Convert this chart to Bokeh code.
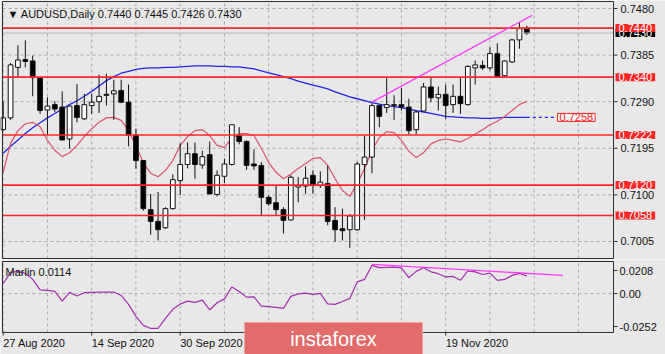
from bokeh.plotting import figure
from bokeh.layouts import column
from bokeh.models import ColumnDataSource, Range1d, Label, Grid
from bokeh.core.properties import value
from bokeh.embed import file_html
from bokeh.resources import INLINE

# ---------------- data ----------------
title_text = "\u25bc AUDUSD,Daily  0.7440 0.7445 0.7426 0.7430"

opens = [0.7233, 0.7257, 0.7360, 0.7376, 0.7373, 0.7339, 0.7273, 0.7284, 0.7279, 0.7214,
         0.7282, 0.7255, 0.7282, 0.7290, 0.7305, 0.7306, 0.7313, 0.7289, 0.7222, 0.7170,
         0.7070, 0.7046, 0.7033, 0.7072, 0.7129, 0.7162, 0.7184, 0.7161, 0.7182, 0.7101,
         0.7138, 0.7162, 0.7221, 0.7209, 0.7163, 0.7160, 0.7095, 0.7084, 0.7070, 0.7049,
         0.7116, 0.7118, 0.7140, 0.7119, 0.7123, 0.7048, 0.7031, 0.7029, 0.7029, 0.7162,
         0.7177, 0.7282, 0.7278, 0.7282, 0.7284, 0.7279, 0.7233, 0.7271, 0.7320, 0.7298,
         0.7305, 0.7284, 0.7301, 0.7284, 0.7359, 0.7364, 0.7359, 0.7388, 0.7343, 0.7371,
         0.7416, 0.7440]
highs = [0.7290, 0.7369, 0.7405, 0.7415, 0.7384, 0.7340, 0.7299, 0.7291, 0.7311, 0.7282,
         0.7326, 0.7306, 0.7306, 0.7345, 0.7347, 0.7335, 0.7335, 0.7325, 0.7235, 0.7171,
         0.7102, 0.7106, 0.7075, 0.7142, 0.7205, 0.7207, 0.7207, 0.7190, 0.7209, 0.7150,
         0.7174, 0.7244, 0.7238, 0.7211, 0.7193, 0.7167, 0.7099, 0.7119, 0.7075, 0.7140,
         0.7136, 0.7158, 0.7150, 0.7148, 0.7160, 0.7075, 0.7072, 0.7061, 0.7167, 0.7221,
         0.7287, 0.7284, 0.7339, 0.7303, 0.7318, 0.7296, 0.7272, 0.7328, 0.7339, 0.7321,
         0.7325, 0.7325, 0.7340, 0.7364, 0.7374, 0.7374, 0.7401, 0.7409, 0.7374, 0.7418,
         0.7452, 0.7445]
lows = [0.7231, 0.7253, 0.7341, 0.7360, 0.7301, 0.7265, 0.7222, 0.7269, 0.7211, 0.7194,
        0.7248, 0.7253, 0.7265, 0.7267, 0.7282, 0.7253, 0.7287, 0.7199, 0.7153, 0.7068,
        0.7019, 0.7007, 0.7031, 0.7070, 0.7100, 0.7154, 0.7133, 0.7153, 0.7102, 0.7097,
        0.7124, 0.7160, 0.7203, 0.7151, 0.7151, 0.7058, 0.7078, 0.7058, 0.7021, 0.7048,
        0.7085, 0.7102, 0.7102, 0.7114, 0.7038, 0.7004, 0.7007, 0.6992, 0.7027, 0.7049,
        0.7144, 0.7238, 0.7267, 0.7253, 0.7272, 0.7223, 0.7223, 0.7271, 0.7289, 0.7272,
        0.7255, 0.7267, 0.7265, 0.7282, 0.7325, 0.7355, 0.7354, 0.7341, 0.7341, 0.7369,
        0.7398, 0.7426]
closes = [0.7257, 0.7365, 0.7375, 0.7372, 0.7339, 0.7272, 0.7281, 0.7275, 0.7212, 0.7281,
          0.7258, 0.7284, 0.7289, 0.7301, 0.7303, 0.7312, 0.7289, 0.7222, 0.7170, 0.7072,
          0.7046, 0.7029, 0.7072, 0.7131, 0.7162, 0.7184, 0.7162, 0.7178, 0.7102, 0.7140,
          0.7163, 0.7243, 0.7209, 0.7160, 0.7159, 0.7095, 0.7082, 0.7070, 0.7048, 0.7136,
          0.7119, 0.7134, 0.7119, 0.7126, 0.7046, 0.7029, 0.7027, 0.7057, 0.7163, 0.7177,
          0.7282, 0.7260, 0.7284, 0.7284, 0.7279, 0.7231, 0.7269, 0.7320, 0.7298, 0.7305,
          0.7282, 0.7301, 0.7286, 0.7362, 0.7365, 0.7359, 0.7388, 0.7341, 0.7373, 0.7416,
          0.7439, 0.7430]

ma_slow = [0.7185, 0.7199, 0.7212, 0.7225, 0.7237, 0.7247, 0.7257, 0.7266, 0.7275, 0.7284,
           0.7292, 0.7301, 0.7311, 0.7322, 0.7333, 0.7341, 0.7348, 0.7352, 0.7356, 0.7358,
           0.7359, 0.7359, 0.7360, 0.7360, 0.7361, 0.7362, 0.7363, 0.7363, 0.7363, 0.7362,
           0.7362, 0.7361, 0.7361, 0.7359, 0.7357, 0.7353, 0.7349, 0.7345, 0.7341, 0.7337,
           0.7332, 0.7328, 0.7324, 0.7320, 0.7316, 0.7310, 0.7305, 0.7300, 0.7296, 0.7292,
           0.7288, 0.7285, 0.7282, 0.7280, 0.7278, 0.7275, 0.7272, 0.7269, 0.7266, 0.7263,
           0.7260, 0.7259, 0.7258, 0.7257, 0.7257, 0.7256, 0.7256, 0.7257, 0.7258, 0.7258,
           0.7258, 0.7258]
ma_fast = [0.7146, 0.7205, 0.7231, 0.7245, 0.7248, 0.7239, 0.7211, 0.7191, 0.7178, 0.7186,
           0.7201, 0.7219, 0.7235, 0.7248, 0.7257, 0.7258, 0.7252, 0.7231, 0.7199, 0.7166,
           0.7144, 0.7137, 0.7150, 0.7170, 0.7201, 0.7219, 0.7231, 0.7233, 0.7221, 0.7201,
           0.7197, 0.7215, 0.7225, 0.7225, 0.7221, 0.7195, 0.7166, 0.7146, 0.7133, 0.7142,
           0.7154, 0.7164, 0.7174, 0.7176, 0.7160, 0.7133, 0.7109, 0.7097, 0.7123, 0.7154,
           0.7191, 0.7217, 0.7229, 0.7227, 0.7211, 0.7189, 0.7176, 0.7186, 0.7204, 0.7211,
           0.7214, 0.7211, 0.7208, 0.7215, 0.7224, 0.7233, 0.7243, 0.7250, 0.7260, 0.7272,
           0.7284, 0.7291]
marlin = [0.0066, 0.0137, 0.0144, 0.0131, 0.0092, 0.0024, 0.0021, 0.0014, -0.0049, 0.0008,
          -0.0016, 0.0006, 0.0008, 0.0010, 0.0010, 0.0010, -0.0012, -0.0070, -0.0148, -0.0206,
          -0.0226, -0.0226, -0.0161, -0.0102, -0.0068, -0.0049, -0.0057, -0.0042, -0.0106, -0.0059,
          -0.0034, 0.0043, 0.0014, -0.0023, -0.0021, -0.0081, -0.0085, -0.0089, -0.0096, -0.0018,
          -0.0002, 0.0003, -0.0005, 0.0001, -0.0067, -0.0070, -0.0051, -0.0031, 0.0076, 0.0092,
          0.0183, 0.0168, 0.0170, 0.0172, 0.0167, 0.0103, 0.0144, 0.0168, 0.0141, 0.0129,
          0.0108, 0.0111, 0.0086, 0.0147, 0.0141, 0.0124, 0.0133, 0.0086, 0.0092, 0.0118,
          0.0131, 0.0114]

levels = [0.7440, 0.7340, 0.7222, 0.7120, 0.7058]
bid_price = 0.7430
price_ticks = [0.7005, 0.7100, 0.7195, 0.7290, 0.7385, 0.7480]
trend_x = [50, 71.7]
trend_y = [0.7289, 0.7466]
marlin_trend_x = [50, 75.9]
marlin_trend_y = [0.0189, 0.0118]
marlin_min, marlin_max = -0.0252, 0.0208
date_idx = [0, 12, 24, 36, 48, 60]
date_labels = ["27 Aug 2020", "14 Sep 2020", "30 Sep 2020", "16 Oct 2020", "3 Nov 2020", "19 Nov 2020"]
watermark = "instaforex"

# ---------------- geometry (screen pixels -> data units, layout only) ----------------
BAR_PX, X0_PX = 7.375, 2.7
P_REF, P_REF_PX, P_SCALE = 0.7480, 8.0, 4905.0
M_ZERO_PX, M_SCALE = 293.1, 1543.0


def X(px):
    return (px - X0_PX) / BAR_PX


def Y1(px):
    return P_REF - (px - P_REF_PX) / P_SCALE


def Y2(px):
    return (M_ZERO_PX - px) / M_SCALE


FONT = "Liberation Sans"
BG = "#E8E8E8"
GRID = "#ABABAB"
OUT = "#303030"
TXT = "#111111"
n = len(closes)
idx = list(range(n))
x_range = Range1d(X(0), X(665))
grid_ticks = list(range(0, 79, 6))
L, R = X(2), X(613)


def strip_grids(p):
    p.center = [r for r in p.center if not isinstance(r, Grid)]


def mk_label(padding=None, **kw):
    if padding is not None:
        try:
            return Label(padding=padding, **kw)
        except Exception:
            pass
    return Label(**kw)


def txt(p, xs, ys, texts, size="11px", color=TXT, align="left", baseline="middle"):
    p.text(x=xs, y=ys, text=texts, text_font=value(FONT), text_font_size=value(size),
           text_color=color, text_align=align, text_baseline=baseline)


# ---------------- main panel ----------------
p1 = figure(width=665, height=259, x_range=x_range, y_range=Range1d(Y1(259), Y1(0)),
            output_backend="svg", toolbar_location=None, title=None,
            x_axis_location=None, y_axis_location=None, min_border=0,
            background_fill_color=BG, border_fill_color=BG, outline_line_color=None)
strip_grids(p1)
T1, B1 = Y1(1), Y1(258)

# dashed grid
p1.segment(x0=grid_ticks, y0=[B1] * len(grid_ticks), x1=grid_ticks, y1=[T1] * len(grid_ticks),
           line_color=GRID, line_dash="3 3", line_width=1)
p1.segment(x0=[L] * len(price_ticks), y0=price_ticks, x1=[R] * len(price_ticks), y1=price_ticks,
           line_color=GRID, line_dash="3 3", line_width=1)

src = ColumnDataSource(dict(
    x=idx, o=opens, h=highs, l=lows, c=closes,
    top=[max(a, b) for a, b in zip(opens, closes)],
    bottom=[min(a, b) for a, b in zip(opens, closes)],
    fill=["white" if c >= o else "black" for o, c in zip(opens, closes)],
))

p1.line(idx, ma_slow, line_color="#2424E6", line_width=1.3)
p1.line(idx, ma_fast, line_color="#E2506C", line_width=1.2)
p1.segment(x0="x", y0="l", x1="x", y1="h", source=src, line_color="#111111", line_width=1)
p1.vbar(x="x", width=0.64, top="top", bottom="bottom", fill_color="fill",
        line_color="#111111", line_width=1, source=src)

# horizontal levels and bid line
p1.segment(x0=[L], y0=[bid_price], x1=[R], y1=[bid_price], line_color="#B8B8B8", line_width=1)
p1.segment(x0=[L] * len(levels), y0=levels, x1=[R] * len(levels), y1=levels,
           line_color="#FF2626", line_width=1.6)

p1.line(trend_x, trend_y, line_color="#FF3CFF", line_width=1.3)

ma_label_x = X(557)
p1.line([idx[-1], ma_label_x], [ma_slow[-1], ma_slow[-1]], line_color="#2424E6",
        line_width=1.3, line_dash="3 3")
p1.add_layout(mk_label(x=ma_label_x, y=ma_slow[-1], text="%.4f" % ma_slow[-1],
                       text_align="left", text_baseline="middle", text_font=FONT,
                       text_font_size="11px", text_color="#FF2626",
                       background_fill_color="#F4F4F4", border_line_color="#FF2626",
                       padding=dict(left=2, right=2, top=0, bottom=0)))

# frame border
p1.quad(left=[L], right=[R], top=[T1], bottom=[B1], fill_color=None, line_color=OUT, line_width=1)

# price scale (right)
p1.segment(x0=[R] * len(price_ticks), y0=price_ticks, x1=[X(617)] * len(price_ticks),
           y1=price_ticks, line_color=OUT, line_width=1)
txt(p1, [X(620)] * len(price_ticks), price_ticks, ["%.4f" % t for t in price_ticks])

box_x = X(615)
p1.add_layout(mk_label(x=box_x, y=bid_price, text="%.4f" % bid_price, text_align="left",
                       text_baseline="middle", text_font=FONT, text_font_size="11px",
                       text_color="white", background_fill_color="black",
                       padding=dict(left=3, right=3, top=0, bottom=0)))
for lv in levels:
    p1.add_layout(mk_label(x=box_x, y=lv, text="%.4f" % lv, text_align="left",
                           text_baseline="middle", text_font=FONT, text_font_size="11px",
                           text_color="white", background_fill_color="#FF2626",
                           padding=dict(left=3, right=3, top=0, bottom=0)))

txt(p1, [X(7)], [Y1(13)], [title_text])

# ---------------- Marlin panel ----------------
p2 = figure(width=665, height=95, x_range=x_range, y_range=Range1d(Y2(354), Y2(259)),
            output_backend="svg", toolbar_location=None, title=None,
            x_axis_location=None, y_axis_location=None, min_border=0,
            background_fill_color=BG, border_fill_color=BG, outline_line_color=None)
strip_grids(p2)

p2.segment(x0=grid_ticks, y0=[marlin_min] * len(grid_ticks), x1=grid_ticks,
           y1=[marlin_max] * len(grid_ticks), line_color=GRID, line_dash="3 3", line_width=1)
p2.segment(x0=[L], y0=[0.0], x1=[R], y1=[0.0], line_color=GRID, line_dash="3 3", line_width=1)

p2.line(idx, marlin, line_color="#A62EB4", line_width=1.2)
p2.line(marlin_trend_x, marlin_trend_y, line_color="#FF3CFF", line_width=1.3)
p2.quad(left=[L], right=[R], top=[marlin_max], bottom=[marlin_min], fill_color=None,
        line_color=OUT, line_width=1)

# Marlin scale: MT4 prints the panel max/min just inside the edges
m_label_y = [Y2(270), 0.0, Y2(326)]
m_label_t = ["%.4f" % marlin_max, "0.00", "%.4f" % marlin_min]
p2.segment(x0=[R] * 3, y0=m_label_y, x1=[X(617)] * 3, y1=m_label_y, line_color=OUT, line_width=1)
txt(p2, [X(619)] * 3, m_label_y, m_label_t)

txt(p2, [X(5)], [Y2(271)], ["Marlin %.4f" % marlin[-1]])

# date scale
p2.segment(x0=date_idx, y0=[marlin_min] * len(date_idx), x1=date_idx,
           y1=[Y2(335)] * len(date_idx), line_color=OUT, line_width=1)
txt(p2, date_idx, [Y2(342)] * len(date_idx), date_labels)

# watermark
p2.quad(left=[X(244)], right=[X(422)], top=[Y2(322)], bottom=[Y2(358)],
        fill_color="#E26B6B", line_color="#EFA3A3", line_width=1)
txt(p2, [X(333)], [Y2(338)], [watermark], size="20px", color="white", align="center")

layout = column(p1, p2, spacing=0)
open("out.html", "w").write(file_html(layout, INLINE))
